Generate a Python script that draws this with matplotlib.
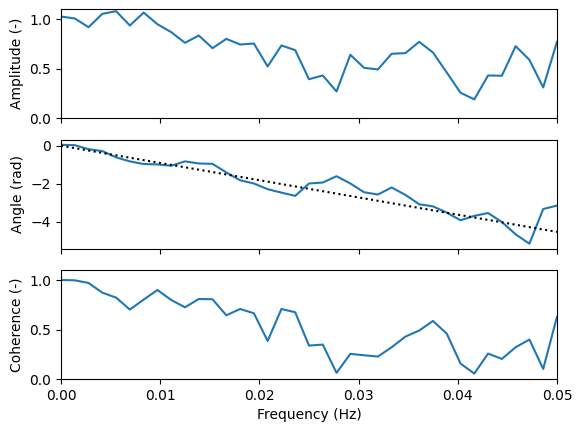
import numpy as np
import matplotlib
matplotlib.use("Agg")
import matplotlib.pyplot as plt

# === Données ===
freq = np.linspace(0, 0.05, 37)  # pas de 1/720 Hz

amplitude = [1.027, 1.007, 0.919, 1.054, 1.081, 0.936, 1.067, 0.949, 0.869, 0.761,
             0.835, 0.707, 0.801, 0.744, 0.754, 0.522, 0.734, 0.687, 0.393, 0.431,
             0.269, 0.640, 0.508, 0.492, 0.650, 0.657, 0.771, 0.663, 0.461, 0.256,
             0.189, 0.431, 0.428, 0.727, 0.589, 0.310, 0.771]

angle = [0.05, 0.03, -0.18, -0.28, -0.61, -0.82, -0.96, -0.98, -1.05, -0.82,
         -0.93, -0.95, -1.40, -1.81, -1.98, -2.28, -2.46, -2.63, -1.98, -1.93,
         -1.60, -1.98, -2.44, -2.56, -2.19, -2.58, -3.07, -3.18, -3.51, -3.91,
         -3.68, -3.53, -4.00, -4.65, -5.14, -3.32, -3.14]

# droite de référence (pointillés)
trend_freq = [0.0, 0.05]
trend_angle = [0.0, -4.52]

coherence = [1.003, 1.000, 0.973, 0.875, 0.825, 0.704, 0.805, 0.902, 0.801, 0.727,
             0.811, 0.808, 0.646, 0.710, 0.667, 0.387, 0.710, 0.677, 0.340, 0.350,
             0.064, 0.256, 0.242, 0.229, 0.323, 0.431, 0.492, 0.589, 0.461, 0.158,
             0.057, 0.259, 0.205, 0.323, 0.401, 0.104, 0.630]

# === Figure ===
fig, axes = plt.subplots(3, 1, sharex=True, figsize=(5.82, 4.32), dpi=100)
fig.subplots_adjust(left=0.1048, right=0.957, top=0.9785, bottom=0.1222, hspace=0.2)

axes[0].plot(freq, amplitude)
axes[0].set_ylim(0, 1.1)
axes[0].set_ylabel('Amplitude (-)')

axes[1].plot(freq, angle)
axes[1].plot(trend_freq, trend_angle, 'k:')
axes[1].set_ylabel('Angle (rad)')

axes[2].plot(freq, coherence)
axes[2].set_ylim(0, 1.1)
axes[2].set_ylabel('Coherence (-)')
axes[2].set_xlabel('Frequency (Hz)')
axes[2].set_xlim(0, 0.05)

fig.savefig('out.png')
